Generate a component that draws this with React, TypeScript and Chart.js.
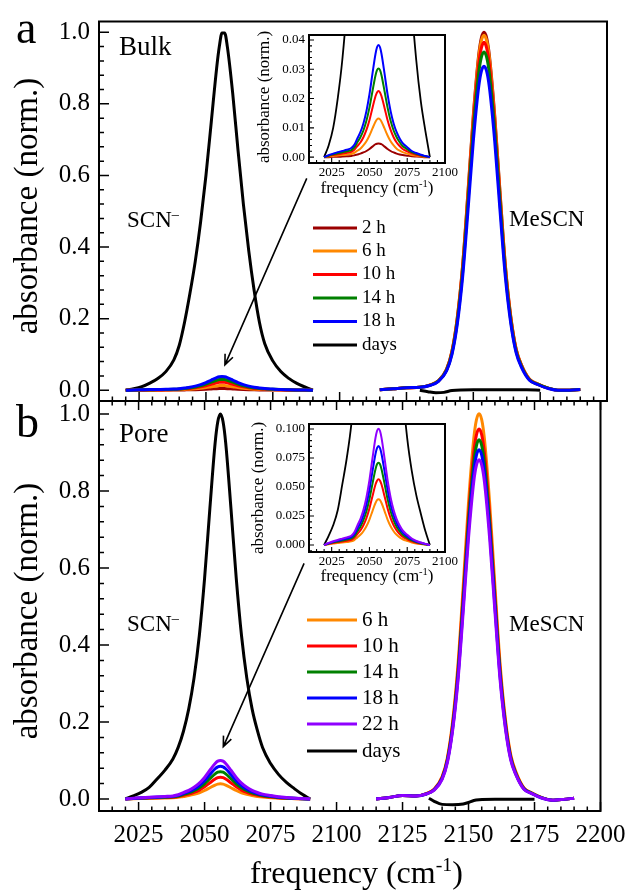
import React, { useEffect, useRef } from "react";
import { Chart, registerables } from "chart.js";

Chart.register(...registerables);

const FONT = '"Liberation Serif", "Times New Roman", Times, serif';

// ---------------- data ----------------
const SCN_X = [2020, 2023, 2026, 2029, 2032, 2035, 2038, 2040, 2042, 2044, 2046, 2048, 2050, 2052, 2054, 2055, 2056, 2057, 2058, 2060, 2062, 2064, 2066, 2068, 2070, 2072, 2075, 2078, 2081, 2084, 2087, 2090];
const MES_X = [2115, 2120, 2125, 2130, 2134, 2137, 2140, 2142, 2144, 2146, 2148, 2150, 2152, 2153, 2154, 2155, 2156, 2158, 2160, 2162, 2164, 2166, 2168, 2171, 2174, 2178, 2182, 2186, 2190];

// Bulk (panel a)
const BULK_2H_SCN = [0, 0, 0.0001, 0.0001, 0.0002, 0.0003, 0.0004, 0.0006, 0.0009, 0.0012, 0.0016, 0.0021, 0.0028, 0.0036, 0.0044, 0.0046, 0.0047, 0.0046, 0.0044, 0.0036, 0.0028, 0.0021, 0.0016, 0.0012, 0.0009, 0.0007, 0.0005, 0.0003, 0.0002, 0.0001, 0, 0];
const BULK_6H_SCN = [0, 0.0002, 0.0004, 0.0006, 0.0007, 0.0009, 0.0011, 0.0015, 0.0022, 0.0029, 0.004, 0.0054, 0.0074, 0.0098, 0.0121, 0.0129, 0.0132, 0.0129, 0.0121, 0.0098, 0.0074, 0.0054, 0.004, 0.0029, 0.0022, 0.0017, 0.0012, 0.0007, 0.0005, 0.0003, 0.0001, 0];
const BULK_10H_SCN = [0, 0.0004, 0.0007, 0.001, 0.0012, 0.0015, 0.0018, 0.0025, 0.0038, 0.005, 0.0068, 0.0093, 0.0126, 0.0168, 0.0208, 0.0221, 0.0226, 0.0221, 0.0208, 0.0168, 0.0126, 0.0093, 0.0068, 0.005, 0.0038, 0.0028, 0.002, 0.0013, 0.0008, 0.0005, 0.0002, 0];
const BULK_14H_SCN = [0, 0.0005, 0.001, 0.0013, 0.0017, 0.002, 0.0024, 0.0033, 0.0051, 0.0068, 0.0091, 0.0124, 0.0169, 0.0225, 0.0279, 0.0297, 0.0303, 0.0297, 0.0279, 0.0225, 0.0169, 0.0124, 0.0091, 0.0068, 0.0051, 0.0038, 0.0027, 0.0017, 0.0011, 0.0007, 0.0003, 0];
const BULK_18H_SCN = [0, 0.0007, 0.0012, 0.0017, 0.0021, 0.0025, 0.0031, 0.0042, 0.0064, 0.0085, 0.0115, 0.0157, 0.0214, 0.0285, 0.0352, 0.0375, 0.0383, 0.0375, 0.0352, 0.0285, 0.0214, 0.0157, 0.0115, 0.0085, 0.0064, 0.0048, 0.0034, 0.0021, 0.0014, 0.0008, 0.0004, 0];
const BULK_DAYS_SCN = [0, 0.004, 0.01, 0.02, 0.033, 0.052, 0.085, 0.125, 0.19, 0.27, 0.36, 0.47, 0.6, 0.75, 0.9, 0.96, 0.998, 0.998, 0.96, 0.83, 0.67, 0.52, 0.39, 0.28, 0.19, 0.13, 0.082, 0.052, 0.033, 0.019, 0.009, 0];

const BULK_2H_MES = [0.001, 0.004, 0.007, 0.008, 0.015, 0.027, 0.059, 0.109, 0.203, 0.349, 0.554, 0.768, 0.936, 0.984, 1.0, 0.984, 0.936, 0.768, 0.553, 0.348, 0.207, 0.116, 0.071, 0.031, 0.018, 0.006, 0, 0, 0.002];
const BULK_6H_MES = [0.001, 0.004, 0.007, 0.008, 0.015, 0.027, 0.058, 0.108, 0.201, 0.347, 0.549, 0.762, 0.929, 0.976, 0.992, 0.976, 0.929, 0.762, 0.548, 0.346, 0.205, 0.115, 0.07, 0.031, 0.018, 0.006, 0, 0, 0.002];
const BULK_10H_MES = [0.001, 0.004, 0.007, 0.008, 0.015, 0.026, 0.057, 0.106, 0.197, 0.34, 0.538, 0.747, 0.91, 0.956, 0.972, 0.956, 0.91, 0.747, 0.537, 0.339, 0.201, 0.113, 0.069, 0.03, 0.017, 0.006, 0, 0, 0.002];
const BULK_14H_MES = [0.001, 0.004, 0.007, 0.008, 0.014, 0.026, 0.056, 0.103, 0.192, 0.33, 0.524, 0.726, 0.885, 0.93, 0.945, 0.93, 0.885, 0.726, 0.523, 0.329, 0.195, 0.109, 0.067, 0.029, 0.017, 0.006, 0, 0, 0.002];
const BULK_18H_MES = [0.001, 0.004, 0.007, 0.008, 0.014, 0.025, 0.054, 0.099, 0.184, 0.316, 0.501, 0.696, 0.847, 0.891, 0.905, 0.891, 0.847, 0.696, 0.5, 0.315, 0.187, 0.105, 0.064, 0.028, 0.016, 0.005, 0, 0, 0.002];
const BULK_DAYS_MES_X = [2130, 2133, 2136, 2139, 2142, 2150, 2160, 2170, 2175];
const BULK_DAYS_MES = [0, -0.004, -0.007, -0.006, -0.001, 0.001, 0.001, 0.001, 0];

// Pore (panel b)
const PORE_6H_SCN = [0, 0.0007, 0.0013, 0.0017, 0.0022, 0.0026, 0.0032, 0.0043, 0.0066, 0.0088, 0.0119, 0.0162, 0.022, 0.0293, 0.0362, 0.0386, 0.0394, 0.0386, 0.0362, 0.0293, 0.022, 0.0162, 0.0119, 0.0088, 0.0066, 0.005, 0.0035, 0.0022, 0.0014, 0.0009, 0.0004, 0];
const PORE_10H_SCN = [0, 0.001, 0.0018, 0.0025, 0.0031, 0.0037, 0.0045, 0.0062, 0.0095, 0.0126, 0.017, 0.0232, 0.0316, 0.0421, 0.0521, 0.0555, 0.0566, 0.0555, 0.0521, 0.0421, 0.0316, 0.0232, 0.017, 0.0126, 0.0095, 0.0071, 0.005, 0.0032, 0.002, 0.0012, 0.0006, 0];
const PORE_14H_SCN = [0, 0.0013, 0.0023, 0.0031, 0.0039, 0.0047, 0.0057, 0.0078, 0.0119, 0.0158, 0.0214, 0.0291, 0.0396, 0.0528, 0.0653, 0.0696, 0.071, 0.0696, 0.0653, 0.0528, 0.0396, 0.0291, 0.0214, 0.0158, 0.0119, 0.0089, 0.0062, 0.004, 0.0026, 0.0016, 0.0007, 0];
const PORE_18H_SCN = [0, 0.0015, 0.0027, 0.0038, 0.0047, 0.0056, 0.0068, 0.0094, 0.0142, 0.019, 0.0257, 0.035, 0.0476, 0.0635, 0.0785, 0.0836, 0.0853, 0.0836, 0.0785, 0.0635, 0.0476, 0.035, 0.0257, 0.019, 0.0142, 0.0107, 0.0075, 0.0048, 0.0031, 0.0019, 0.0009, 0];
const PORE_22H_SCN = [0, 0.0018, 0.0032, 0.0044, 0.0055, 0.0066, 0.008, 0.011, 0.0168, 0.0224, 0.0302, 0.0411, 0.056, 0.0746, 0.0923, 0.0983, 0.1003, 0.0983, 0.0923, 0.0746, 0.056, 0.0411, 0.0302, 0.0224, 0.0168, 0.0126, 0.0088, 0.0056, 0.0036, 0.0022, 0.001, 0];
const PORE_DAYS_SCN = [0, 0.008, 0.017, 0.03, 0.052, 0.075, 0.104, 0.134, 0.176, 0.234, 0.314, 0.424, 0.573, 0.754, 0.925, 0.98, 1.0, 0.98, 0.925, 0.754, 0.573, 0.424, 0.314, 0.234, 0.178, 0.133, 0.092, 0.064, 0.043, 0.027, 0.012, 0];

const PORE_6H_MES = [0, 0.004, 0.009, 0.008, 0.014, 0.026, 0.058, 0.108, 0.203, 0.349, 0.554, 0.77, 0.937, 0.985, 1.001, 0.985, 0.937, 0.769, 0.553, 0.348, 0.206, 0.115, 0.07, 0.029, 0.016, 0.003, -0.003, -0.001, 0.002];
const PORE_10H_MES = [0, 0.004, 0.009, 0.008, 0.014, 0.025, 0.056, 0.104, 0.195, 0.335, 0.532, 0.739, 0.9, 0.946, 0.961, 0.946, 0.9, 0.738, 0.531, 0.334, 0.198, 0.11, 0.067, 0.028, 0.015, 0.003, -0.003, -0.001, 0.002];
const PORE_14H_MES = [0, 0.004, 0.009, 0.008, 0.013, 0.024, 0.054, 0.101, 0.189, 0.325, 0.516, 0.718, 0.873, 0.918, 0.933, 0.918, 0.873, 0.717, 0.515, 0.324, 0.192, 0.107, 0.065, 0.027, 0.015, 0.003, -0.003, -0.001, 0.002];
const PORE_18H_MES = [0, 0.004, 0.009, 0.008, 0.013, 0.024, 0.053, 0.098, 0.184, 0.316, 0.502, 0.698, 0.849, 0.893, 0.907, 0.893, 0.849, 0.697, 0.501, 0.315, 0.187, 0.104, 0.063, 0.026, 0.014, 0.002, -0.003, -0.001, 0.002];
const PORE_22H_MES = [0, 0.004, 0.009, 0.008, 0.013, 0.023, 0.051, 0.095, 0.179, 0.307, 0.488, 0.678, 0.825, 0.867, 0.881, 0.867, 0.825, 0.677, 0.487, 0.306, 0.181, 0.101, 0.062, 0.025, 0.014, 0.002, -0.003, -0.001, 0.002];
const PORE_DAYS_MES_X = [2135, 2137, 2140, 2144, 2148, 2150, 2152, 2154, 2160, 2175];
const PORE_DAYS_MES = [0.002, -0.006, -0.014, -0.015, -0.013, -0.009, -0.004, -0.002, -0.001, -0.001];

const BULK_LABELS = ["2 h", "6 h", "10 h", "14 h", "18 h", "days"];
const BULK_COLORS = ["#9b0000", "#ff8800", "#ff0000", "#008000", "#0000ff", "#000000"];
const BULK_SCN = [BULK_2H_SCN, BULK_6H_SCN, BULK_10H_SCN, BULK_14H_SCN, BULK_18H_SCN, BULK_DAYS_SCN];
const BULK_MES = [BULK_2H_MES, BULK_6H_MES, BULK_10H_MES, BULK_14H_MES, BULK_18H_MES, BULK_DAYS_MES];
const BULK_MES_XS = [MES_X, MES_X, MES_X, MES_X, MES_X, BULK_DAYS_MES_X];

const PORE_LABELS = ["6 h", "10 h", "14 h", "18 h", "22 h", "days"];
const PORE_COLORS = ["#ff8800", "#ff0000", "#008000", "#0000ff", "#8f00ff", "#000000"];
const PORE_SCN = [PORE_6H_SCN, PORE_10H_SCN, PORE_14H_SCN, PORE_18H_SCN, PORE_22H_SCN, PORE_DAYS_SCN];
const PORE_MES = [PORE_6H_MES, PORE_10H_MES, PORE_14H_MES, PORE_18H_MES, PORE_22H_MES, PORE_DAYS_MES];
const PORE_MES_XS = [MES_X, MES_X, MES_X, MES_X, MES_X, PORE_DAYS_MES_X];

const MAIN_Y_TICKS = [0, 0.2, 0.4, 0.6, 0.8, 1.0];
const MAIN_X_TICKS = [2025, 2050, 2075, 2100, 2125, 2150, 2175, 2200];
const INSET_X_TICKS = [2025, 2050, 2075, 2100];
const INSET_A_Y_TICKS = [0, 0.01, 0.02, 0.03, 0.04];
const INSET_B_Y_TICKS = [0, 0.025, 0.05, 0.075, 0.1];

// ---------------- helpers ----------------
type Seg = { t: string; sup?: boolean };
type TextItem = { x: number; y: number; segs: Seg[]; size: number; align?: string; rotate?: boolean; baseline?: CanvasTextBaseline };

function buildDatasets(labels: string[], colors: string[], scn: number[][], mes: number[][], mesXs: number[][], width: number, blackWidth: number) {
  return labels.map((label, i) => {
    const pts: any[] = SCN_X.map((x, j) => ({ x, y: scn[i][j] }));
    pts.push({ x: 2102, y: null });
    mesXs[i].forEach((x, j) => pts.push({ x, y: mes[i][j] }));
    const isBlack = colors[i] === "#000000";
    return {
      label,
      data: pts,
      borderColor: colors[i],
      backgroundColor: colors[i],
      borderWidth: isBlack ? blackWidth : width,
      pointRadius: 0,
      pointHoverRadius: 0,
      cubicInterpolationMode: "monotone",
      spanGaps: false,
      fill: false,
      order: isBlack ? 100 : 50 - i,
    };
  });
}

function range(min: number, max: number, step: number) {
  const out: number[] = [];
  for (let k = Math.ceil(min / step - 1e-6); k * step <= max + 1e-9; k++) out.push(k * step);
  return out;
}

function drawRich(ctx: CanvasRenderingContext2D, item: TextItem) {
  const size = item.size;
  const supSize = size * 0.62;
  const fonts = item.segs.map((s) => `${s.sup ? supSize : size}px ${FONT}`);
  const widths = item.segs.map((s, i) => {
    ctx.font = fonts[i];
    return ctx.measureText(s.t).width;
  });
  const total = widths.reduce((a, b) => a + b, 0);
  ctx.save();
  ctx.translate(item.x, item.y);
  if (item.rotate) ctx.rotate(-Math.PI / 2);
  let cx = item.align === "center" ? -total / 2 : item.align === "right" ? -total : 0;
  ctx.textAlign = "left";
  ctx.textBaseline = item.baseline || "alphabetic";
  item.segs.forEach((s, i) => {
    ctx.font = fonts[i];
    ctx.fillText(s.t, cx, s.sup ? -size * 0.36 : 0);
    cx += widths[i];
  });
  ctx.restore();
}

function makeDecor(o: any) {
  return {
    id: "decor",
    afterDraw(chart: any) {
      const ctx: CanvasRenderingContext2D = chart.ctx;
      const { left, right, top, bottom } = chart.chartArea;
      const xs = chart.scales.x;
      const ys = chart.scales.y;
      ctx.save();
      ctx.strokeStyle = "#000";
      ctx.fillStyle = "#000";
      ctx.lineCap = "butt";
      ctx.lineWidth = o.tickWidth;
      ctx.beginPath();
      for (const v of range(ys.min, ys.max, o.yMinor)) {
        const major = o.yMajor.some((m: number) => Math.abs(m - v) < o.yMinor * 0.01);
        const len = major ? o.yMajorLen : o.yMinorLen;
        const py = ys.getPixelForValue(v);
        ctx.moveTo(left, py);
        ctx.lineTo(left + len, py);
      }
      for (const side of o.xSides) {
        for (const v of range(xs.min, xs.max, o.xMinor)) {
          const major = o.xMajor.some((m: number) => Math.abs(m - v) < o.xMinor * 0.01);
          const len = major ? o.xMajorLen : o.xMinorLen;
          const px = xs.getPixelForValue(v);
          if (side === "bottom") {
            ctx.moveTo(px, bottom);
            ctx.lineTo(px, bottom - len);
          } else {
            ctx.moveTo(px, top);
            ctx.lineTo(px, top + len);
          }
        }
      }
      ctx.stroke();
      ctx.lineWidth = o.frameWidth;
      ctx.strokeRect(left, top, right - left, bottom - top);

      if (o.arrow) {
        const fx = xs.getPixelForValue(o.arrow.from[0]);
        const fy = ys.getPixelForValue(o.arrow.from[1]);
        const tx = xs.getPixelForValue(o.arrow.to[0]);
        const ty = ys.getPixelForValue(o.arrow.to[1]);
        const ang = Math.atan2(ty - fy, tx - fx);
        ctx.lineWidth = 1.6;
        ctx.beginPath();
        ctx.moveTo(fx, fy);
        ctx.lineTo(tx, ty);
        const hl = 11;
        ctx.moveTo(tx - hl * Math.cos(ang - 0.4), ty - hl * Math.sin(ang - 0.4));
        ctx.lineTo(tx, ty);
        ctx.lineTo(tx - hl * Math.cos(ang + 0.4), ty - hl * Math.sin(ang + 0.4));
        ctx.stroke();
      }

      if (o.legend) {
        const L = o.legend;
        L.labels.forEach((label: string, i: number) => {
          ctx.strokeStyle = L.colors[i];
          ctx.lineWidth = 3;
          ctx.beginPath();
          ctx.moveTo(L.x1, L.ys[i]);
          ctx.lineTo(L.x2, L.ys[i]);
          ctx.stroke();
          ctx.fillStyle = "#000";
          ctx.font = `${L.size}px ${FONT}`;
          ctx.textAlign = "left";
          ctx.textBaseline = "middle";
          ctx.fillText(label, L.tx, L.ys[i]);
        });
      }

      ctx.fillStyle = "#000";
      (o.texts || []).forEach((t: TextItem) => drawRich(ctx, t));
      ctx.restore();
    },
  };
}

const FREQ_SEGS: Seg[] = [{ t: "frequency (cm" }, { t: "-1", sup: true }, { t: ")" }];
const SCN_SEGS: Seg[] = [{ t: "SCN" }, { t: "\u2013", sup: true }];

function yScale(min: number, max: number, ticks: number[], size: number, pad: number, width: number, digits: number) {
  return {
    type: "linear",
    min,
    max,
    grid: { display: false, drawTicks: false },
    border: { display: false },
    ticks: {
      font: { family: FONT, size, lineHeight: 1 },
      color: "#000",
      padding: pad,
      callback: (v: any) => Number(v).toFixed(digits),
    },
    afterBuildTicks: (s: any) => {
      s.ticks = ticks.map((v) => ({ value: v }));
    },
    afterFit: (s: any) => {
      s.width = width;
    },
  };
}

function xScale(min: number, max: number, ticks: number[] | null, size: number, pad: number, height: number) {
  if (!ticks) return { type: "linear", min, max, display: false };
  return {
    type: "linear",
    min,
    max,
    grid: { display: false, drawTicks: false },
    border: { display: false },
    ticks: {
      font: { family: FONT, size, lineHeight: 1 },
      color: "#000",
      padding: pad,
      maxRotation: 0,
      autoSkip: false,
      callback: (v: any) => String(v),
    },
    afterBuildTicks: (s: any) => {
      s.ticks = ticks.map((v) => ({ value: v }));
    },
    afterFit: (s: any) => {
      s.height = height;
    },
  };
}

function baseOptions(padding: any, scales: any) {
  return {
    responsive: false,
    maintainAspectRatio: false,
    animation: false,
    devicePixelRatio: 1,
    events: [],
    layout: { padding },
    plugins: { legend: { display: false }, tooltip: { enabled: false } },
    scales,
  };
}

function makeConfigs() {
  const bulkMain = buildDatasets(BULK_LABELS, BULK_COLORS, BULK_SCN, BULK_MES, BULK_MES_XS, 3, 3);
  const poreMain = buildDatasets(PORE_LABELS, PORE_COLORS, PORE_SCN, PORE_MES, PORE_MES_XS, 3, 3);
  const bulkInset = buildDatasets(BULK_LABELS, BULK_COLORS, BULK_SCN, BULK_MES, BULK_MES_XS, 2, 1.8);
  const poreInset = buildDatasets(PORE_LABELS, PORE_COLORS, PORE_SCN, PORE_MES, PORE_MES_XS, 2, 1.8);

  const mainTicks = {
    tickWidth: 1.5, frameWidth: 2,
    yMajor: MAIN_Y_TICKS, yMinor: 0.04, yMajorLen: 10, yMinorLen: 5,
    xMajor: MAIN_X_TICKS, xMinor: 5, xMajorLen: 9, xMinorLen: 4.5,
  };
  const insetTicks = {
    tickWidth: 1.1, frameWidth: 2,
    xMajor: INSET_X_TICKS, xMinor: 5, xMajorLen: 5, xMinorLen: 3, xSides: ["bottom"],
    yMajorLen: 5, yMinorLen: 3,
  };

  const a = {
    type: "line",
    data: { datasets: bulkMain },
    options: baseOptions({ left: 0, top: 14, right: 30, bottom: 491 }, {
      x: xScale(2010, 2200, null, 25, 0, 0),
      y: yScale(-0.0301, 1.0301, MAIN_Y_TICKS, 25, 9, 99, 1),
    }),
    plugins: [makeDecor({
      ...mainTicks, xSides: ["bottom"],
      arrow: { from: [2087.7, 0.592], to: [2057.1, 0.071] },
      legend: { labels: BULK_LABELS, colors: BULK_COLORS, x1: 313, x2: 357, tx: 362, ys: [228, 251, 274.5, 298, 321.5, 345], size: 19 },
      texts: [
        { x: 16, y: 43, segs: [{ t: "a" }], size: 46 },
        { x: 119, y: 55, segs: [{ t: "Bulk" }], size: 27 },
        { x: 127, y: 227, segs: SCN_SEGS, size: 23 },
        { x: 509, y: 226, segs: [{ t: "MeSCN" }], size: 23 },
        { x: 28, y: 206, segs: [{ t: "absorbance (norm.)" }], size: 33, align: "center", rotate: true, baseline: "middle" },
      ],
    })],
  };

  const b = {
    type: "line",
    data: { datasets: poreMain },
    options: baseOptions({ left: 0, top: 401, right: 30, bottom: 0 }, {
      x: xScale(2010, 2200, MAIN_X_TICKS, 25, 11.5, 81),
      y: yScale(-0.0312, 1.0338, MAIN_Y_TICKS, 25, 9, 99, 1),
    }),
    plugins: [makeDecor({
      ...mainTicks, xSides: ["bottom", "top"],
      arrow: { from: [2087.7, 0.612], to: [2057.1, 0.136] },
      legend: { labels: PORE_LABELS, colors: PORE_COLORS, x1: 307, x2: 357, tx: 362, ys: [620, 646, 672, 698, 724, 751], size: 21 },
      texts: [
        { x: 16, y: 437, segs: [{ t: "b" }], size: 46 },
        { x: 119, y: 442, segs: [{ t: "Pore" }], size: 27 },
        { x: 127, y: 631, segs: SCN_SEGS, size: 23 },
        { x: 509, y: 631, segs: [{ t: "MeSCN" }], size: 23 },
        { x: 28, y: 611, segs: [{ t: "absorbance (norm.)" }], size: 33, align: "center", rotate: true, baseline: "middle" },
        { x: 250, y: 883, segs: FREQ_SEGS, size: 32 },
      ],
    })],
  };

  const ia = {
    type: "line",
    data: { datasets: bulkInset },
    options: baseOptions({ left: 0, top: 35, right: 192, bottom: 0 }, {
      x: xScale(2010, 2100, INSET_X_TICKS, 13, 3.5, 729),
      y: yScale(-0.002, 0.0417, INSET_A_Y_TICKS, 13, 4, 309, 2),
    }),
    plugins: [makeDecor({
      ...insetTicks, yMajor: INSET_A_Y_TICKS, yMinor: 0.002,
      texts: [
        { x: 264.5, y: 97, segs: [{ t: "absorbance (norm.)" }], size: 17, align: "center", rotate: true, baseline: "middle" },
        { x: 377, y: 193, segs: FREQ_SEGS, size: 17, align: "center" },
      ],
    })],
  };

  const ib = {
    type: "line",
    data: { datasets: poreInset },
    options: baseOptions({ left: 0, top: 424, right: 192, bottom: 0 }, {
      x: xScale(2010, 2100, INSET_X_TICKS, 13, 3.5, 340),
      y: yScale(-0.006, 0.1043, INSET_B_Y_TICKS, 13, 4, 309, 3),
    }),
    plugins: [makeDecor({
      ...insetTicks, yMajor: INSET_B_Y_TICKS, yMinor: 0.005,
      texts: [
        { x: 259, y: 488, segs: [{ t: "absorbance (norm.)" }], size: 17, align: "center", rotate: true, baseline: "middle" },
        { x: 377, y: 581, segs: FREQ_SEGS, size: 17, align: "center" },
      ],
    })],
  };
  return [a, b, ia, ib];
}

function ChartLayer({ config }: { config: any }) {
  const ref = useRef<HTMLCanvasElement>(null);
  useEffect(() => {
    const chart = new Chart(ref.current as HTMLCanvasElement, config);
    return () => chart.destroy();
  }, [config]);
  return (
    <canvas
      ref={ref}
      width={637}
      height={892}
      style={{ position: "absolute", left: 0, top: 0, width: 637, height: 892, display: "block" }}
    />
  );
}

const CONFIGS = makeConfigs();

export default function App() {
  Chart.defaults.font.family = FONT;
  Chart.defaults.color = "#000";
  return (
    <div style={{ position: "fixed", left: 0, top: 0, width: 637, height: 892, background: "#fff", overflow: "hidden" }}>
      {CONFIGS.map((c, i) => (
        <ChartLayer key={i} config={c} />
      ))}
    </div>
  );
}
